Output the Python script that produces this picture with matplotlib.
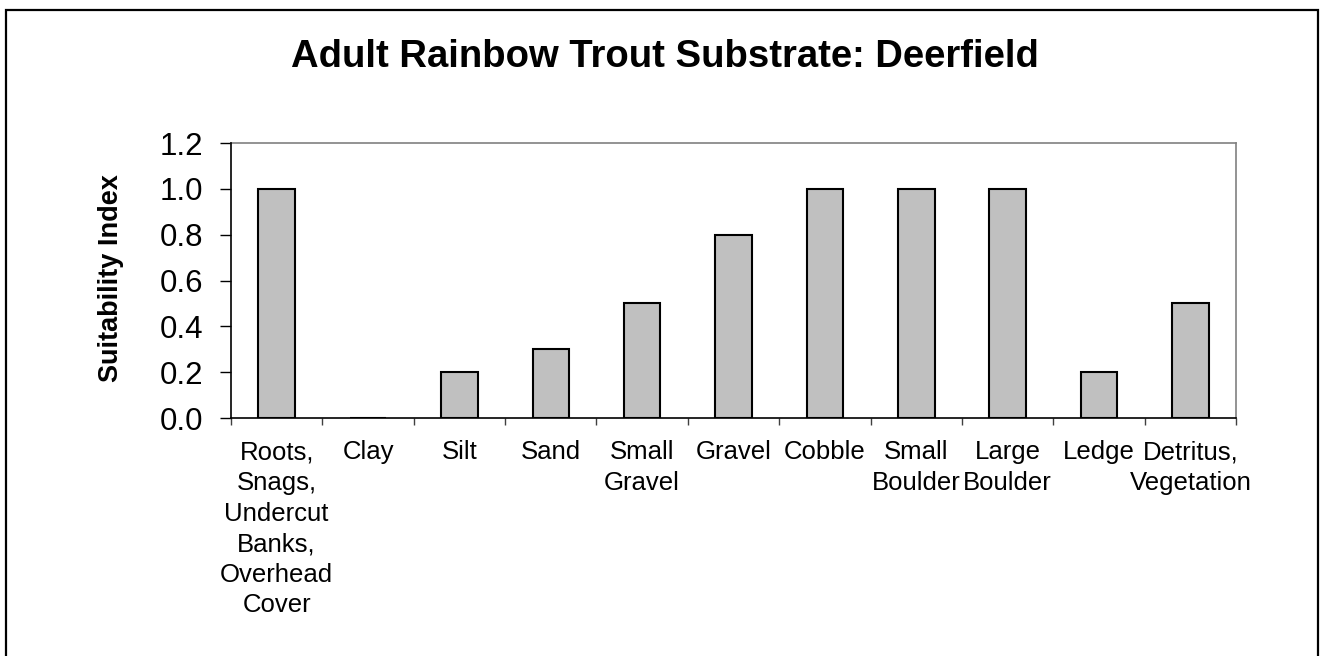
import matplotlib.pyplot as plt
import numpy as np
from matplotlib.patches import Rectangle
from matplotlib.ticker import FormatStrFormatter

plt.rcParams['font.family'] = ['Liberation Sans', 'DejaVu Sans']

categories = ["Roots,\nSnags,\nUndercut\nBanks,\nOverhead\nCover", "Clay", "Silt", "Sand",
              "Small\nGravel", "Gravel", "Cobble", "Small\nBoulder", "Large\nBoulder",
              "Ledge", "Detritus,\nVegetation"]
suitability = [1.0, 0.0, 0.2, 0.3, 0.5, 0.8, 1.0, 1.0, 1.0, 0.2, 0.5]
y_ticks = [0.0, 0.2, 0.4, 0.6, 0.8, 1.0, 1.2]

fig = plt.figure(figsize=(13.2, 6.56), dpi=100)
ax = fig.add_axes([0.175, 0.3628, 0.7614, 0.4192])

x = np.arange(len(categories))
ax.bar(x, suitability, width=0.4, color='#C0C0C0', edgecolor='black', linewidth=1.5, zorder=2)

ax.set_xlim(-0.5, len(categories) - 0.5)
ax.set_ylim(0, 1.2)
ax.set_yticks(y_ticks)
ax.yaxis.set_major_formatter(FormatStrFormatter('%.1f'))
ax.tick_params(axis='y', direction='out', length=8, width=1, pad=12, labelsize=22.5)

# tick marks between categories, labels at the centres
ax.set_xticks(np.arange(len(categories) + 1) - 0.5)
ax.set_xticklabels([])
ax.tick_params(axis='x', which='major', direction='out', length=5, width=1, color='#404040')
ax.set_xticks(x, minor=True)
ax.set_xticklabels(categories, minor=True, fontsize=18.5, linespacing=1.35)
ax.tick_params(axis='x', which='minor', length=0, pad=16)

for side in ['left', 'bottom']:
    ax.spines[side].set_color('black')
    ax.spines[side].set_linewidth(1.2)
    ax.spines[side].set_zorder(3)
for side in ['top', 'right']:
    ax.spines[side].set_color('#808080')
    ax.spines[side].set_linewidth(1.2)

fig.text(0.5034, 0.898, "Adult Rainbow Trout Substrate: Deerfield", ha='center', va='baseline',
         fontsize=27.5, fontweight='bold')
fig.text(0.0841, 0.576, "Suitability Index", rotation=90, ha='center', va='center',
         fontsize=19.5, fontweight='bold')

# outer chart border
fig.patches.append(Rectangle((5.5 / 1320, -0.05), 1312.5 / 1320, 1 - 10 / 656 + 0.05,
                             transform=fig.transFigure, fill=False, edgecolor='black',
                             linewidth=1.6))

fig.savefig('out.png', dpi=100, facecolor='white')
